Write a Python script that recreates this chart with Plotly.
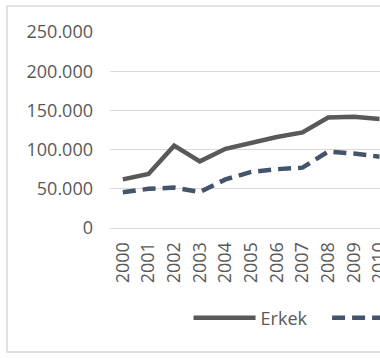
import plotly.graph_objects as go

years = ["2000", "2001", "2002", "2003", "2004", "2005", "2006", "2007", "2008", "2009", "2010"]
erkek = [62000, 69000, 105000, 85000, 101000, 109000, 116000, 122000, 141000, 142000, 139000]
kadin = [45500, 50000, 51500, 46000, 62000, 71500, 75000, 77000, 97500, 95000, 91000]
series_names = ["Erkek", "Kadın"]

FONT = "Open Sans"
GRAY = "#595959"

fig = go.Figure()
fig.add_trace(go.Scatter(x=years, y=erkek, name=series_names[0], mode="lines",
                         line=dict(color="#595959", width=4.5), legend="legend"))
fig.add_trace(go.Scatter(x=years, y=kadin, name=series_names[1], mode="lines",
                         line=dict(color="#44546A", width=4.5, dash="13px,7px"),
                         legend="legend2"))

legend_common = dict(orientation="h", yanchor="middle", y=-0.459, xanchor="left",
                     font=dict(family=FONT, size=18, color=GRAY),
                     itemwidth=62, bgcolor="rgba(0,0,0,0)")

fig.update_layout(
    width=380, height=358,
    margin=dict(l=110, r=0, t=32, b=130, autoexpand=False),
    paper_bgcolor="white", plot_bgcolor="white",
    separators=",.",
    font=dict(family=FONT, size=18, color=GRAY),
    showlegend=True,
    legend=dict(x=0.291, **legend_common),
    legend2=dict(x=0.804, **legend_common),
    xaxis=dict(type="category", range=[-0.5, 10.02], showgrid=False,
               showline=True, linecolor="#D9D9D9", linewidth=1,
               tickangle=-90, ticks="", ticklabelstandoff=6,
               tickfont=dict(family=FONT, size=18, color=GRAY), zeroline=False),
    yaxis=dict(range=[0, 250000], tickvals=[0, 50000, 100000, 150000, 200000, 250000],
               tickformat=",d", showgrid=True, gridcolor="#D9D9D9", gridwidth=1,
               zeroline=False, showline=False, ticks="", ticklabelstandoff=16,
               tickfont=dict(family=FONT, size=18, color=GRAY)),
    shapes=[dict(type="rect", xref="paper", yref="paper",
                 x0=-0.3815, x1=1.2, y0=-0.6327, y1=1.1327,
                 line=dict(color="#D9D9D9", width=1.5), layer="below")],
)

fig.write_html("out.html", config={"displayModeBar": False},
               post_script="document.body.style.margin='0';")
